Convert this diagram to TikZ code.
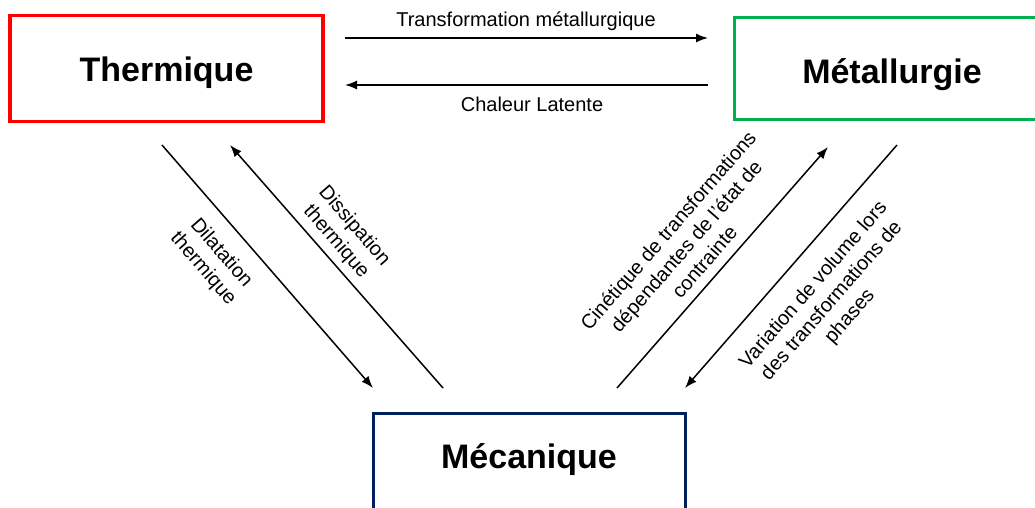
\documentclass[tikz,border=0pt]{standalone}
\usepackage{fontspec}
\setmainfont{Liberation Sans}
\usetikzlibrary{arrows.meta}
\definecolor{cred}{RGB}{255,0,0}
\definecolor{cgreen}{RGB}{0,176,80}
\definecolor{cblue}{RGB}{0,32,96}
\begin{document}
\begin{tikzpicture}[x=1pt,y=-1pt,
  box/.style={draw,line width=3.5pt,rectangle,inner sep=0pt,anchor=north,font=\fontsize{34}{38}\selectfont\bfseries},
  arr/.style={line width=1.5pt,-{Latex[length=12pt,width=9pt]}},
  lbl/.style={font=\fontsize{20}{24}\selectfont,align=center,inner sep=0pt}]
\useasboundingbox (0,0) rectangle (1035,508);
\clip (0,0) rectangle (1035,508);
\node[box,draw=cred,minimum width=313pt,text height=66pt,text depth=40pt] (therm) at (166.5,14) {Thermique};
\node[box,draw=cgreen,line width=3pt,minimum width=316pt,text height=66pt,text depth=36pt] (metal) at (892,16) {Métallurgie};
\node[box,draw=cblue,line width=3pt,minimum width=312pt,text height=55pt,text depth=60pt] (meca) at (529,412) {Mécanique};
% horizontal
\coordinate (h1a) at (345,38); \coordinate (h1b) at (708,38);
\coordinate (h2a) at (708,85); \coordinate (h2b) at (345,85);
\draw[arr] (h1a) -- (h1b);
\draw[arr] (h2a) -- (h2b);
\node[lbl] (tm) at (526,21) {Transformation métallurgique};
\node[lbl] (cl) at (532,104) {Chaleur Latente};
% left diagonals
\coordinate (d1a) at (162,145); \coordinate (d1b) at (373,388);
\coordinate (d2a) at (443,388); \coordinate (d2b) at (230,145);
\draw[arr] (d1a) -- (d1b);
\draw[arr] (d2a) -- (d2b);
\node[lbl,rotate=-49] (dil) at (212,261) {Dilatation\\thermique};
\node[lbl,rotate=-49] (dis) at (345,234) {Dissipation\\thermique};
% right diagonals
\coordinate (d3a) at (617,388); \coordinate (d3b) at (828,147);
\coordinate (d4a) at (897,145); \coordinate (d4b) at (685,388);
\draw[arr] (d3a) -- (d3b);
\draw[arr] (d4a) -- (d4b);
\node[lbl,rotate=49] (cin) at (686,246) {Cinétique de transformations\\dépendantes de l'état de\\contrainte};
\node[lbl,rotate=49] (var) at (832,301) {Variation de volume lors\\des transformations de\\phases};
\end{tikzpicture}
\end{document}
